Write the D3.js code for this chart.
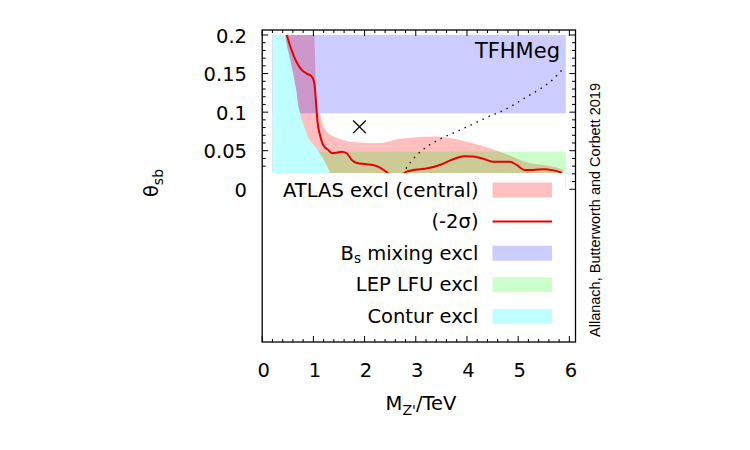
<!DOCTYPE html>
<html>
<head>
<meta charset="utf-8">
<script src="https://cdn.jsdelivr.net/npm/d3@7"></script>
<style>
  body { margin: 0; background: #fff; }
  svg text { font-family: "DejaVu Sans", sans-serif; fill: #000; }
</style>
</head>
<body>
<div id="chart"></div>
<script>
// M_Z' (TeV) vs theta_sb exclusion plot, TFHMeg model

// ATLAS excl (central): upper edge of excluded region
const atlasM = [0.2, 1.02, 1.06, 1.13, 1.19, 1.29, 1.46, 1.71, 2.11, 2.37, 2.63, 2.89, 3.15, 3.47, 3.80, 4.12, 4.45, 4.64, 4.90, 5.04, 5.23, 5.49, 5.75, 5.88];
const atlasTheta = [0.2, 0.2, 0.099, 0.0985, 0.081, 0.0726, 0.066, 0.0617, 0.0596, 0.0604, 0.0648, 0.0669, 0.0682, 0.0684, 0.0648, 0.0596, 0.0532, 0.0487, 0.0423, 0.038, 0.0337, 0.0315, 0.0285, 0.025];

// (-2 sigma) line
const redM = [0.48, 0.54, 0.61, 0.67, 0.77, 0.87, 0.97, 1.02, 1.05, 1.08, 1.13, 1.19, 1.29, 1.37, 1.46, 1.55, 1.65, 1.75, 1.85, 2.04, 2.24, 2.43, 2.60, 2.82, 2.95, 3.08, 3.21, 3.47, 3.73, 3.95, 4.12, 4.30, 4.51, 4.84, 4.97, 5.13, 5.29, 5.49, 5.69, 5.85];
const redTheta = [0.2, 0.187, 0.174, 0.165, 0.155, 0.150, 0.146, 0.137, 0.114, 0.0876, 0.070, 0.0574, 0.051, 0.0467, 0.0475, 0.0487, 0.0467, 0.038, 0.0340, 0.0325, 0.0300, 0.0222, 0.012, 0.0228, 0.025, 0.026, 0.027, 0.0315, 0.039, 0.0428, 0.0425, 0.040, 0.0358, 0.0358, 0.0315, 0.025, 0.025, 0.026, 0.0245, 0.0215];

// Bs mixing band and LEP LFU band
const bsM = [0.2, 5.93];
const bsTheta = [0.0985, 0.2];
const lepM = [0.2, 5.93];
const lepTheta = [0, 0.049];

// Contur excl outline
const conturM = [0.2, 0.45, 0.48, 0.54, 0.61, 0.67, 0.70, 0.74, 0.77, 0.90, 1.06, 1.19, 1.32, 1.40, 0.2];
const conturTheta = [0.2, 0.2, 0.187, 0.17, 0.148, 0.127, 0.109, 0.099, 0.09, 0.066, 0.053, 0.040, 0.0228, 0, 0];

// dotted line
const dotM = [2.68, 2.80, 3.00, 3.28, 3.50, 3.80, 4.10, 4.48, 4.64, 4.90, 5.17, 5.40, 5.62, 5.90];
const dotTheta = [0.012, 0.026, 0.043, 0.058, 0.066, 0.075, 0.084, 0.096, 0.1, 0.109, 0.12, 0.129, 0.139, 0.158];

// benchmark point
const crossM = [1.9];
const crossTheta = [0.081];

const xTicks = [0, 1, 2, 3, 4, 5, 6];
const yTicks = [0, 0.05, 0.1, 0.15, 0.2];
const yTickLabels = ["0", "0.05", "0.1", "0.15", "0.2"];

const legendItems = ["ATLAS excl (central)", "(-2σ)", "Bs mixing excl", "LEP LFU excl", "Contur excl"];

const W = 750, H = 450;
const L = 262.2, R = 575.5, T = 30, B = 342;

const svg = d3.select("#chart").append("svg")
  .attr("width", W).attr("height", H);

const x = d3.scaleLinear().domain([0, 6.12]).range([L, R]);
const y = d3.scaleLinear().domain([-0.198, 0.2065]).range([B, T]);

svg.append("defs").append("clipPath").attr("id", "plot")
  .append("rect").attr("x", L).attr("y", T).attr("width", R - L).attr("height", B - T);

const g = svg.append("g").attr("clip-path", "url(#plot)");

const pts = (ms, ts) => ms.map((m, i) => [x(m), y(ts[i])]);

// ATLAS region, filled down to theta=0
const atlasPoly = pts(atlasM, atlasTheta)
  .concat([[x(atlasM[atlasM.length - 1]), y(0)], [x(atlasM[0]), y(0)]]);
g.append("path")
  .attr("d", d3.line()(atlasPoly) + "Z")
  .attr("fill", "rgba(255,0,0,0.25)");

g.append("rect")
  .attr("x", x(bsM[0])).attr("y", y(bsTheta[1]))
  .attr("width", x(bsM[1]) - x(bsM[0])).attr("height", y(bsTheta[0]) - y(bsTheta[1]))
  .attr("fill", "rgba(0,0,255,0.2)");

g.append("rect")
  .attr("x", x(lepM[0])).attr("y", y(lepTheta[1]))
  .attr("width", x(lepM[1]) - x(lepM[0])).attr("height", y(lepTheta[0]) - y(lepTheta[1]))
  .attr("fill", "rgba(0,255,0,0.2)");

g.append("path")
  .attr("d", d3.line()(pts(conturM, conturTheta)) + "Z")
  .attr("fill", "#c0ffff");

g.append("path")
  .attr("d", d3.line().curve(d3.curveMonotoneX)(pts(redM, redTheta)))
  .attr("fill", "none").attr("stroke", "#e80000").attr("stroke-width", 2);

g.append("path")
  .attr("d", d3.line().curve(d3.curveMonotoneX)(pts(dotM, dotTheta)))
  .attr("fill", "none").attr("stroke", "#000").attr("stroke-width", 1.4)
  .attr("stroke-dasharray", "1.4,5.2");

crossM.forEach((m, i) => {
  const cx = x(m), cy = y(crossTheta[i]), s = 6.3;
  g.append("path")
    .attr("d", `M${cx - s},${cy - s}L${cx + s},${cy + s}M${cx - s},${cy + s}L${cx + s},${cy - s}`)
    .attr("stroke", "#000").attr("stroke-width", 1.3);
});

svg.append("text").attr("x", 560).attr("y", 57.5)
  .attr("text-anchor", "end").attr("font-size", 21).text("TFHMeg");

// y ticks (0..0.2), inward on both sides
const yMinor = d3.range(0, 21).map(i => i / 100);
const ax = svg.append("g").attr("stroke", "#000").attr("stroke-width", 1);
yMinor.forEach(v => {
  const major = Math.round(v * 100) % 5 === 0;
  const len = major ? 6 : 3.5;
  ax.append("line").attr("x1", L).attr("x2", L + len).attr("y1", y(v)).attr("y2", y(v));
  ax.append("line").attr("x1", R).attr("x2", R - len).attr("y1", y(v)).attr("y2", y(v));
});

// legend box (opaque)
svg.append("rect").attr("x", L + 0.5).attr("y", 173)
  .attr("width", 564.5 - L).attr("height", B - 173).attr("fill", "#fff");

const legColors = ["rgba(255,0,0,0.25)", null, "rgba(0,0,255,0.2)", "rgba(0,255,0,0.2)", "#c0ffff"];
legendItems.forEach((lab, i) => {
  const cy = 190 + i * 31.6;
  const t = svg.append("text").attr("x", 478.5).attr("y", cy)
    .attr("text-anchor", "end").attr("dominant-baseline", "central").attr("font-size", 19.5);
  if (lab.startsWith("Bs")) {
    t.append("tspan").text("B");
    t.append("tspan").attr("font-size", 13.5).attr("dy", 5).text("s");
    t.append("tspan").attr("dy", -5).text(" mixing excl");
  } else {
    t.text(lab);
  }
  if (legColors[i]) {
    svg.append("rect").attr("x", 492.5).attr("y", cy - 7.5).attr("width", 59.5).attr("height", 15)
      .attr("fill", legColors[i]);
  } else {
    svg.append("line").attr("x1", 492.5).attr("x2", 552).attr("y1", cy).attr("y2", cy)
      .attr("stroke", "#e80000").attr("stroke-width", 2);
  }
});

// x ticks, inward top and bottom
const xMinor = d3.range(0, 31).map(i => i / 5);
const ax2 = svg.append("g").attr("stroke", "#000").attr("stroke-width", 1);
xMinor.forEach((v, i) => {
  const len = i % 5 === 0 ? 6 : 3;
  ax2.append("line").attr("x1", x(v)).attr("x2", x(v)).attr("y1", B).attr("y2", B - len);
  ax2.append("line").attr("x1", x(v)).attr("x2", x(v)).attr("y1", T).attr("y2", T + len);
});

// frame
svg.append("rect").attr("x", L).attr("y", T).attr("width", R - L).attr("height", B - T)
  .attr("fill", "none").attr("stroke", "#000").attr("stroke-width", 1.3);

// tick labels
xTicks.forEach(v => {
  svg.append("text").attr("x", x(v) + 1.5).attr("y", 377)
    .attr("text-anchor", "middle").attr("font-size", 19.5).text(v);
});
yTicks.forEach((v, i) => {
  svg.append("text").attr("x", 247).attr("y", y(v) + 1)
    .attr("text-anchor", "end").attr("dominant-baseline", "central").attr("font-size", 19.5)
    .text(yTickLabels[i]);
});

// axis titles
const xl = svg.append("text").attr("x", 421).attr("y", 410)
  .attr("text-anchor", "middle").attr("font-size", 19.5);
xl.append("tspan").text("M");
xl.append("tspan").attr("font-size", 14).attr("dy", 5).text("Z'");
xl.append("tspan").attr("dy", -5).text("/TeV");

const yl = svg.append("text").attr("transform", "translate(158,183) rotate(-90)")
  .attr("text-anchor", "middle").attr("font-size", 19.5);
yl.append("tspan").text("θ");
yl.append("tspan").attr("font-size", 14).attr("dy", 5).text("sb");

svg.append("text").attr("transform", "translate(600,210) rotate(-90)")
  .attr("text-anchor", "middle").attr("font-size", 14.5)
  .style("font-family", "'Liberation Sans', Arial, sans-serif")
  .text("Allanach, Butterworth and Corbett 2019");
</script>
</body>
</html>
